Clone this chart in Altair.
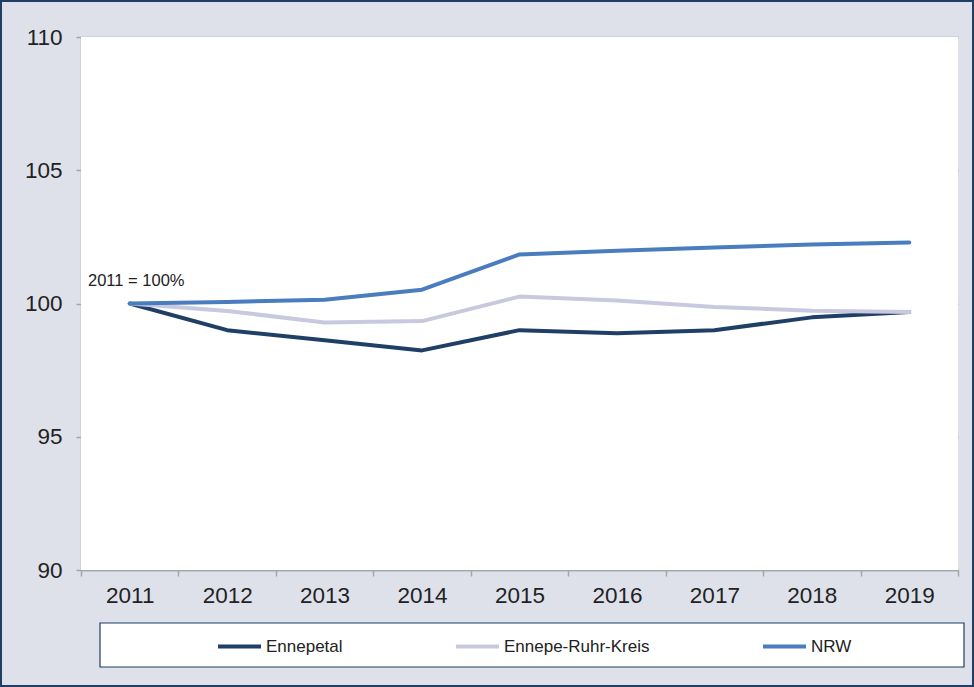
import altair as alt
import pandas as pd

years = ["2011", "2012", "2013", "2014", "2015", "2016", "2017", "2018", "2019"]
ennepetal = [100.0, 99.0, 98.62, 98.24, 99.0, 98.88, 99.0, 99.48, 99.68]
erk = [100.0, 99.72, 99.29, 99.34, 100.26, 100.11, 99.87, 99.73, 99.68]
nrw = [100.0, 100.06, 100.14, 100.52, 101.84, 101.98, 102.1, 102.21, 102.29]
series = ["Ennepetal", "Ennepe-Ruhr-Kreis", "NRW"]
colors = ["#1f3f66", "#c8c9de", "#4a7cc0"]

rows = []
for name, vals in zip(series, [ennepetal, erk, nrw]):
    for y, v in zip(years, vals):
        rows.append({"year": y, "value": v, "series": name})
df = pd.DataFrame(rows)

FONT = "Liberation Sans"
W, H = 877, 533

x_enc = alt.X("year:O", scale=alt.Scale(type="band", paddingInner=0, paddingOuter=0),
              axis=alt.Axis(title=None, labelAngle=0, tickBand="extent", labelFontSize=22.5,
                            labelColor="#222222", labelFont=FONT, labelPadding=8,
                            domainColor="#a6a6a6", tickColor="#a6a6a6", tickSize=6,
                            domainWidth=1.5, tickWidth=1.5, grid=False))
y_enc = alt.Y("value:Q", scale=alt.Scale(domain=[90, 110], nice=False, zero=False),
              axis=alt.Axis(title=None, values=[90, 95, 100, 105, 110], labelFontSize=22.5,
                            labelColor="#222222", labelFont=FONT, labelPadding=14,
                            domainColor="#a6a6a6", tickColor="#a6a6a6", tickSize=5,
                            domainWidth=1.5, tickWidth=1.5, grid=True,
                            gridColor="#a6a6a6", gridWidth=1.5))

lines = alt.Chart(df).mark_line(strokeWidth=4, strokeCap="round", strokeJoin="round").encode(
    x=x_enc,
    y=y_enc,
    color=alt.Color("series:N", scale=alt.Scale(domain=series, range=colors), sort=series,
                    legend=alt.Legend(title=None, orient="none", direction="horizontal",
                                      legendX=135, legendY=586, columns=3, columnPadding=105,
                                      symbolType="stroke", symbolStrokeWidth=4, symbolSize=1849,
                                      labelFontSize=17, labelFont=FONT, labelColor="#222222",
                                      labelOffset=3, padding=0, gridAlign="none")),
    order=alt.Order("year:O"),
)

ann = alt.Chart(pd.DataFrame({"t": ["2011 = 100%"]})).mark_text(
    align="left", baseline="alphabetic", fontSize=16.5, font=FONT, color="#222222"
).encode(text="t:N", x=alt.value(7), y=alt.value(249))

legend_box = alt.Chart(pd.DataFrame({"k": [0]})).mark_rect(
    fill="white", stroke="#1f3f66", strokeWidth=1.2
).encode(x=alt.value(19), x2=alt.value(883), y=alt.value(586), y2=alt.value(630))

frame = alt.Chart(pd.DataFrame({"k": [0]})).mark_rect(
    fill=None, stroke="#1f3f66", strokeWidth=2
).encode(x=alt.value(-80), x2=alt.value(892), y=alt.value(-36), y2=alt.value(649))

plot_bg = alt.Chart(pd.DataFrame({"k": [0]})).mark_rect(fill="white").encode(
    x=alt.value(0), x2=alt.value(W), y=alt.value(0), y2=alt.value(H))

chart = alt.layer(plot_bg, frame, legend_box, lines, ann).properties(
    width=W, height=H,
    padding={"left": 81, "top": 37, "right": 16, "bottom": 117},
    autosize=alt.AutoSizeParams(type="none"),
    background="#dfe1ea",
).configure_view(stroke=None, fill="white")

chart.save("out.html", embed_options={"renderer": "svg", "actions": False})
